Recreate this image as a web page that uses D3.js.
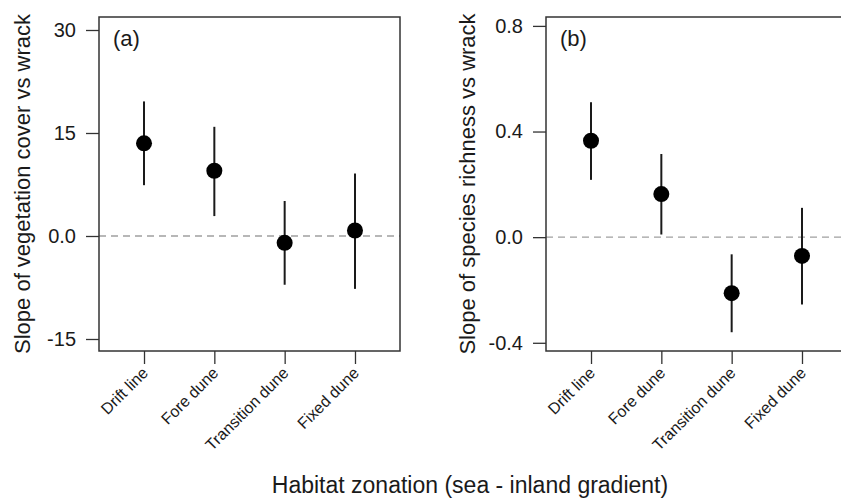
<!DOCTYPE html>
<html>
<head>
<meta charset="utf-8">
<script src="https://cdn.jsdelivr.net/npm/d3@7"></script>
<style>
  html, body { margin: 0; padding: 0; background: #fff; }
  svg { display: block; font-family: "Liberation Sans", Arial, sans-serif; }
</style>
</head>
<body>
<svg id="chart" width="841" height="499"></svg>
<script>
// ---- data ----
const categories = ["Drift line", "Fore dune", "Transition dune", "Fixed dune"];

const coverSlope = [13.5, 9.5, -1.0, 0.8];
const coverLower = [7.4, 2.9, -7.1, -7.7];
const coverUpper = [19.6, 15.9, 5.1, 9.1];
const coverTicks = [-15, 0, 15, 30];
const coverTickLabels = ["-15", "0.0", "15", "30"];

const richSlope = [0.365, 0.163, -0.212, -0.071];
const richLower = [0.217, 0.010, -0.360, -0.255];
const richUpper = [0.511, 0.315, -0.065, 0.111];
const richTicks = [-0.4, 0, 0.4, 0.8];
const richTickLabels = ["-0.4", "0.0", "0.4", "0.8"];

const panels = [
  { tag: "(a)", title: "Slope of vegetation cover vs wrack", est: coverSlope, lo: coverLower, hi: coverUpper,
    ticks: coverTicks, tickLabels: coverTickLabels, domain: [-16.748, 31.893], left: 99, titleX: 22 },
  { tag: "(b)", title: "Slope of species richness vs wrack", est: richSlope, lo: richLower, hi: richUpper,
    ticks: richTicks, tickLabels: richTickLabels, domain: [-0.4311, 0.8337], left: 546, titleX: 467 }
];

const svg = d3.select("#chart");
const W = 301, plotTop = 17, plotBottom = 351;
const ink = "#1a1a1a";

panels.forEach(p => {
  const x = d3.scaleLinear().domain([0.36, 4.64]).range([p.left, p.left + W]);
  const y = d3.scaleLinear().domain(p.domain).range([plotBottom, plotTop]);
  const g = svg.append("g");

  // zero reference line
  g.append("line")
    .attr("x1", p.left).attr("x2", p.left + W)
    .attr("y1", y(0)).attr("y2", y(0))
    .attr("stroke", "#a0a0a0").attr("stroke-width", 1.3)
    .attr("stroke-dasharray", "7,5");

  // y axis
  const yAxis = d3.axisLeft(y).tickValues(p.ticks)
    .tickFormat((d, i) => p.tickLabels[i]).tickSize(13).tickPadding(10);
  const ya = g.append("g").attr("transform", `translate(${p.left},0)`).call(yAxis);
  ya.select(".domain").remove();
  ya.selectAll(".tick line").attr("stroke", "#333").attr("stroke-width", 1.3);
  ya.selectAll(".tick text").attr("fill", ink).style("font-size", "20px")
    .style("font-family", "'Liberation Sans', Arial, sans-serif");

  // x axis ticks
  const xAxis = d3.axisBottom(x).tickValues([1, 2, 3, 4]).tickFormat("").tickSize(13);
  const xa = g.append("g").attr("transform", `translate(0,${plotBottom})`).call(xAxis);
  xa.select(".domain").remove();
  xa.selectAll(".tick line").attr("stroke", "#333").attr("stroke-width", 1.3);

  // rotated category labels
  g.selectAll("text.cat").data(categories).enter().append("text")
    .attr("class", "cat")
    .attr("text-anchor", "end")
    .attr("transform", (d, i) => `translate(${x(i + 1) + 5},${plotBottom + 23}) rotate(-45)`)
    .attr("fill", ink)
    .style("font-size", "16px")
    .text(d => d);

  // box
  g.append("rect")
    .attr("x", p.left).attr("y", plotTop)
    .attr("width", W).attr("height", plotBottom - plotTop)
    .attr("fill", "none").attr("stroke", "#333").attr("stroke-width", 1.5);

  // error bars
  g.selectAll("line.err").data(p.est).enter().append("line")
    .attr("class", "err")
    .attr("x1", (d, i) => x(i + 1)).attr("x2", (d, i) => x(i + 1))
    .attr("y1", (d, i) => y(p.lo[i])).attr("y2", (d, i) => y(p.hi[i]))
    .attr("stroke", ink).attr("stroke-width", 2);

  // points
  g.selectAll("circle.pt").data(p.est).enter().append("circle")
    .attr("class", "pt")
    .attr("cx", (d, i) => x(i + 1)).attr("cy", d => y(d))
    .attr("r", 8).attr("fill", "#000");

  // panel tag
  g.append("text").attr("x", p.left + 14).attr("y", 46)
    .attr("fill", ink).style("font-size", "22px").text(p.tag);

  // y title
  g.append("text")
    .attr("transform", `translate(${p.titleX},${(plotTop + plotBottom) / 2}) rotate(-90)`)
    .attr("text-anchor", "middle").attr("dy", "0.35em")
    .attr("fill", ink).style("font-size", "22px").text(p.title);
});

// x title
svg.append("text").attr("x", 470).attr("y", 493)
  .attr("text-anchor", "middle").attr("fill", ink)
  .style("font-size", "23px").text("Habitat zonation (sea - inland gradient)");
</script>
</body>
</html>
